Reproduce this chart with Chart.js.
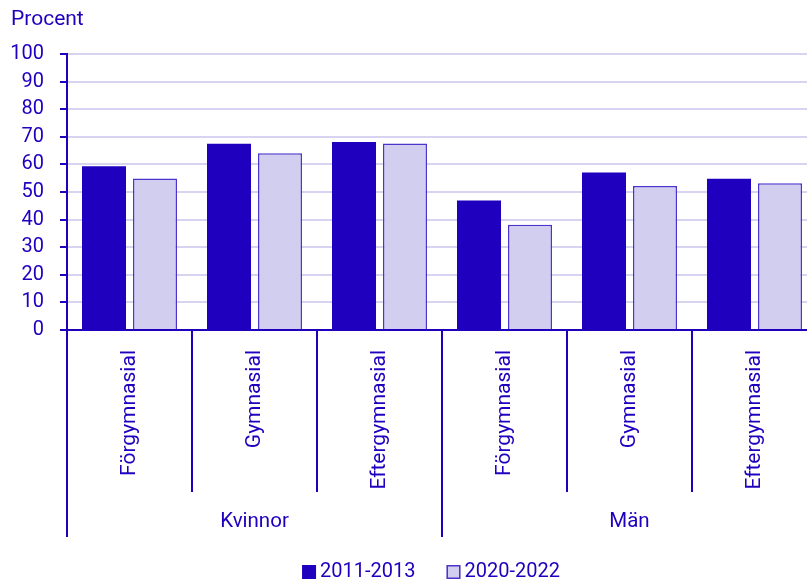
<!DOCTYPE html>
<html>
<head>
<meta charset="utf-8">
<script src="https://cdn.jsdelivr.net/npm/chart.js@4/dist/chart.umd.min.js"></script>
<style>
html,body{margin:0;padding:0;background:#fff;overflow:hidden;width:807px;height:580px;}
canvas{display:block;}
</style>
</head>
<body>
<canvas id="c" width="820" height="580" style="width:820px;height:580px"></canvas>
<script>
const categories = ['Förgymnasial','Gymnasial','Eftergymnasial','Förgymnasial','Gymnasial','Eftergymnasial'];
const groups = ['Kvinnor','Män'];
const groupSizes = [3,3];
const seriesNames = ['2011-2013','2020-2022'];
const values2011 = [59.3, 67.5, 68.1, 46.9, 57.1, 54.8];
const values2020 = [54.9, 64.0, 67.6, 38.1, 52.2, 53.2];
const yTicks = [0,10,20,30,40,50,60,70,80,90,100];

const INK = '#1e00be';
const LIGHT = '#d2cef0';
const LIGHT_BORDER = '#4b34cc';
const GRID = '#d6d4f1';
const FONT = 'Roboto';

const groupPlugin = {
  id: 'groups',
  afterDraw(chart) {
    const ctx = chart.ctx;
    const x = chart.scales.x;
    const area = chart.chartArea;
    const step = x.getPixelForValue(1) - x.getPixelForValue(0);
    const base = area.bottom;
    ctx.save();
    ctx.strokeStyle = INK;
    ctx.lineWidth = 2;
    const longIdx = [0];
    let acc = 0;
    groupSizes.forEach(s => { acc += s; longIdx.push(acc); });
    for (let i = 0; i <= categories.length; i++) {
      const px = Math.round(x.getPixelForValue(i) - step / 2);
      const isLong = longIdx.includes(i);
      ctx.beginPath();
      ctx.moveTo(px, base);
      ctx.lineTo(px, base + (isLong ? 207 : 162));
      ctx.stroke();
    }
    ctx.fillStyle = INK;
    ctx.font = '20.5px ' + FONT;
    ctx.textAlign = 'center';
    ctx.textBaseline = 'middle';
    let start = 0;
    groups.forEach((g, gi) => {
      const end = start + groupSizes[gi] - 1;
      const cx = (x.getPixelForValue(start) + x.getPixelForValue(end)) / 2;
      ctx.fillText(g, cx, base + 192);
      start += groupSizes[gi];
    });
    ctx.textAlign = 'left';
    ctx.font = '21px ' + FONT;
    ctx.fillText('Procent', 11, 20);
    ctx.font = '20px ' + FONT;
    const ds = chart.data.datasets;
    const box = 14, gapText = 4, gapItem = 31;
    const widths = ds.map(d => ctx.measureText(d.label).width);
    let total = 0;
    ds.forEach((d, i) => { total += box + gapText + widths[i]; if (i < ds.length - 1) total += gapItem; });
    let lx = 431 - total / 2;
    const ly = 572;
    ds.forEach((d, i) => {
      ctx.fillStyle = d.backgroundColor;
      ctx.fillRect(lx, ly - box / 2, box, box);
      if (d.borderWidth) {
        ctx.strokeStyle = d.borderColor;
        ctx.lineWidth = 1.5;
        ctx.strokeRect(lx + 0.75, ly - box / 2 + 0.75, box - 1.5, box - 1.5);
      }
      ctx.fillStyle = INK;
      ctx.fillText(d.label, lx + box + gapText, ly);
      lx += box + gapText + widths[i] + gapItem;
    });
    ctx.restore();
  }
};

new Chart(document.getElementById('c'), {
  type: 'bar',
  data: {
    labels: categories,
    datasets: [
      { label: seriesNames[0], data: values2011, backgroundColor: INK, borderColor: INK, borderWidth: 0,
        categoryPercentage: 0.816, barPercentage: 0.863 },
      { label: seriesNames[1], data: values2020, backgroundColor: LIGHT, borderColor: LIGHT_BORDER, borderWidth: 1.5,
        categoryPercentage: 0.816, barPercentage: 0.863 }
    ]
  },
  options: {
    responsive: false,
    devicePixelRatio: 1,
    animation: false,
    layout: { padding: { left: 0, right: 3, top: 54, bottom: 0 } },
    plugins: { legend: { display: false }, tooltip: { enabled: false } },
    scales: {
      x: {
        type: 'category',
        grid: { display: false },
        border: { display: true, color: INK, width: 2 },
        ticks: {
          color: INK, font: { family: FONT, size: 21 },
          minRotation: 90, maxRotation: 90, autoSkip: false, padding: 12
        },
        afterFit(s) { s.height = 250; }
      },
      y: {
        min: 0, max: 100,
        afterBuildTicks(s) { s.ticks = yTicks.map(v => ({ value: v })); },
        grid: { color: GRID, lineWidth: 2, tickColor: INK, tickLength: 7, tickWidth: 2 },
        border: { display: true, color: INK, width: 2 },
        ticks: { color: INK, font: { family: FONT, size: 20 }, padding: 16 },
        afterFit(s) { s.width = 67; }
      }
    }
  },
  plugins: [groupPlugin]
});
</script>
</body>
</html>
